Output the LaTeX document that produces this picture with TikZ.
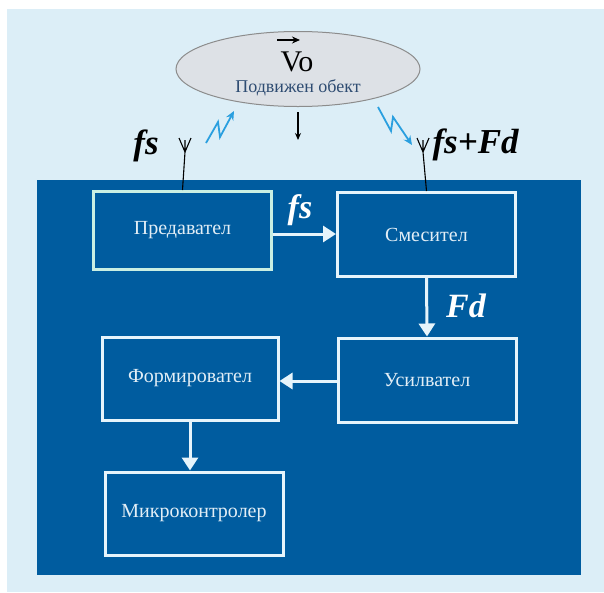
\documentclass[tikz,border=0pt]{standalone}
\usepackage{fontspec}
\setmainfont{Liberation Serif}
\usetikzlibrary{arrows.meta,shapes.geometric}
\definecolor{bgl}{HTML}{DCEEF7}
\definecolor{dblue}{HTML}{005C9F}
\definecolor{bline}{HTML}{E6F4FB}
\definecolor{tline}{HTML}{C9EFE3}
\definecolor{btext}{HTML}{E2EEF6}
\definecolor{egray}{HTML}{DDE1E6}
\definecolor{eline}{HTML}{8C8C8C}
\definecolor{otext}{HTML}{2E4C72}
\definecolor{zig}{HTML}{2A9FDF}
\tikzset{
  x=1pt,y=-1pt,
  blk/.style={draw=bline,line width=3pt,text=btext,font=\fontsize{20}{22}\selectfont,inner sep=0pt},
  warr/.style={draw=bline,line width=3pt,-{Triangle[length=13pt,width=16pt]}},
  lab/.style={text=white,font=\fontsize{34}{36}\selectfont\bfseries\itshape},
  blab/.style={text=black,font=\fontsize{35}{37}\selectfont\bfseries\itshape},
  ant/.style={draw=black,line width=1.1pt},
  zz/.style={draw=zig,line width=1.8pt,-{Stealth[length=9pt,width=8pt]}}
}
\begin{document}
\begin{tikzpicture}
\useasboundingbox (0,0) rectangle (604,592);
\fill[white] (0,0) rectangle (604,592);
\fill[bgl] (7,9) rectangle (604,592);
\fill[dblue] (37,180) rectangle (581,575);
% boxes
\node[blk,draw=tline,minimum width=178pt,minimum height=78pt] (tx) at (182.5,230.5) {Предавател};
\node[blk,minimum width=178pt,minimum height=84pt] (mix) at (426.5,234.5) {Смесител};
\node[blk,minimum width=178pt,minimum height=84pt] (amp) at (427,380) {Усилвател};
\node[blk,minimum width=176pt,minimum height=83pt] (form) at (190,378.5) {Формировател};
\node[blk,minimum width=178pt,minimum height=83pt] (mcu) at (194,513.5) {Микроконтролер};
% arrows
\draw[warr] (tx.east |- 0,234) -- (mix.west |- 0,234);
\node[lab] (lfs) at (300,210) {fs};
\draw[warr] (mix.south) -- (amp.north);
\node[lab] (lfd) at (466,306) {Fd};
\draw[warr] (amp.west |- 0,381) -- (form.east |- 0,381);
\draw[warr] (form.south) -- (form.south |- mcu.north);
% moving object
\node[ellipse,draw=eline,fill=egray,line width=1pt,minimum width=244pt,minimum height=75pt] (obj) at (298,69) {};
\node[font=\fontsize{30}{32}\selectfont,inner sep=0pt] (vo) at (297,62) {Vo};
\coordinate (va1) at (277,40);
\coordinate (va2) at (300,40);
\draw[line width=1.6pt,-{Stealth[length=8pt,width=7pt]}] (va1) -- (va2);
\node[text=otext,font=\fontsize{18}{20}\selectfont,inner sep=0pt] (objt) at (298,88) {Подвижен обект};
\coordinate (da1) at (298,112);
\coordinate (da2) at (298,140);
\draw[line width=1.1pt,-{Stealth[length=7pt,width=6pt]}] (da1) -- (da2);
% antennas
\coordinate (a1) at (185,152);
\coordinate (a2) at (423,152);
\draw[ant] (tx.north) -- (a1) -- ++(-6,-14) (a1) -- ++(6,-14) (a1) -- ++(0,-12);
\draw[ant] (mix.north) -- (a2) -- ++(-6,-14) (a2) -- ++(6,-14) (a2) -- ++(0,-12);
\node[blab] (fsl) at (146,146) {fs};
\node[blab,anchor=west] (fsr) at (429,145) {fs+Fd};
% zigzags
\coordinate (z1) at (206,143);
\coordinate (z4) at (234,111);
\draw[zz] (z1) -- (218,122) -- (220,137) -- (z4);
\coordinate (z5) at (378,107);
\coordinate (z8) at (412,145);
\draw[zz] (z5) -- (391,131) -- (393,117) -- (z8);
\end{tikzpicture}
\end{document}
